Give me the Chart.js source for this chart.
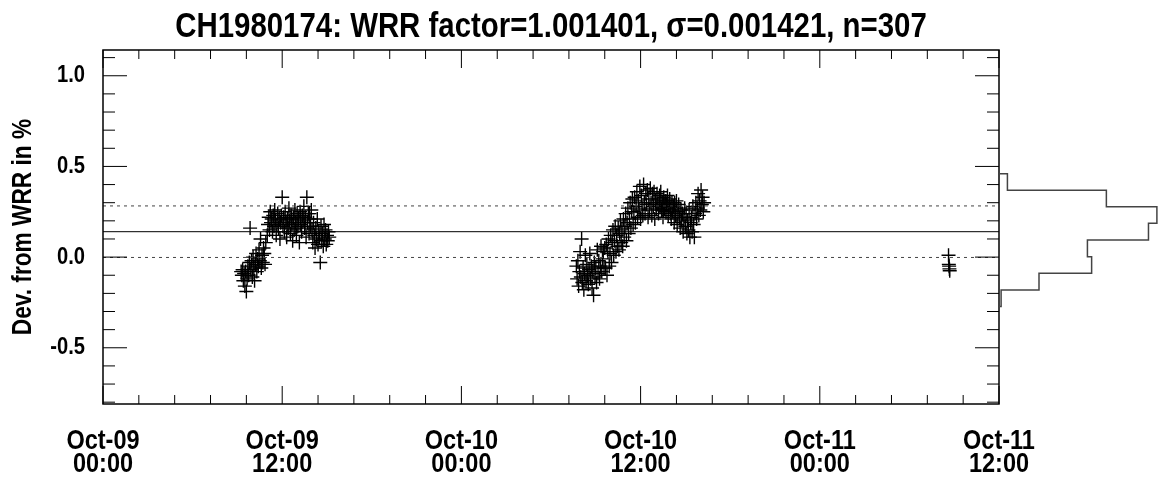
<!DOCTYPE html>
<html>
<head>
<meta charset="utf-8">
<title>CH1980174 WRR factor</title>
<script src="https://cdn.jsdelivr.net/npm/chart.js@4.4.1/dist/chart.umd.min.js"></script>
<style>
  html, body { margin: 0; padding: 0; background: #fff; }
  #wrap { position: relative; width: 1161px; height: 480px; }
  #wrap canvas { position: absolute; left: 0; top: 0; }
  #histo { pointer-events: none; }
</style>
</head>
<body>
<div id="wrap">
  <canvas id="grafico" width="1161" height="480"></canvas>
  <canvas id="histo" width="1161" height="480"></canvas>
</div>
<script>
// --- datos ---
const titulo = "CH1980174: WRR factor=1.001401, \u03c3=0.001421, n=307";
const wrrMedia = 0.1401;   // (factor - 1) en %
const wrrSigma = 0.1421;   // sigma en %

// primera serie (09-oct)
const run1Horas = [
  9.25, 9.30, 9.35, 9.40, 9.45, 9.50, 9.55, 9.60, 9.65, 9.70, 9.75, 9.80, 9.85, 9.90, 9.95, 10.00, 10.05,
  10.10, 10.15, 10.20, 10.25, 10.30, 10.35, 10.40, 10.45, 10.50, 10.55, 10.60, 10.65, 10.70, 10.75, 10.80, 10.85, 10.90,
  11.00, 11.05, 11.10, 11.15, 11.20, 11.25, 11.30, 11.35, 11.40, 11.45, 11.50, 11.55, 11.60, 11.65, 11.70, 11.75,
  11.80, 11.85, 11.90, 11.95, 12.00, 12.05,
  12.10, 12.15, 12.20, 12.25, 12.30, 12.35, 12.40, 12.45, 12.50, 12.55, 12.60, 12.65, 12.70, 12.75, 12.80, 12.85,
  12.90, 12.95, 13.00, 13.05, 13.10, 13.15, 13.20, 13.25, 13.30, 13.35, 13.40, 13.45, 13.50, 13.55, 13.60, 13.65,
  13.70, 13.75, 13.80, 13.85, 13.90, 13.95,
  14.00, 14.05, 14.10, 14.15, 14.20, 14.25, 14.30, 14.35, 14.40, 14.45, 14.50, 14.55, 14.60, 14.65, 14.70, 14.75,
  14.80, 14.85, 14.90, 14.95, 15.00, 15.05, 15.10, 15.15,
  12.325, 12.625, 12.925, 13.225, 13.525, 13.825
];
const run1Dev = [
  -0.08, -0.10, -0.07, -0.13, -0.09, -0.16, -0.08, -0.19, -0.12, -0.05, -0.10, -0.03, 0.16, -0.07, -0.02, -0.11, 0.00,
  -0.06, -0.13, -0.04, 0.02, -0.08, -0.01, -0.05, 0.04, -0.02, 0.10, -0.06, 0.01, -0.03, 0.05, 0.02, -0.04, 0.08,
  0.12, 0.18, 0.22, 0.15, 0.25, 0.19, 0.21, 0.14, 0.23, 0.17, 0.26, 0.20, 0.12, 0.18, 0.24, 0.16,
  0.21, 0.10, 0.19, 0.23, 0.33, 0.17,
  0.22, 0.14, 0.25, 0.19, 0.11, 0.21, 0.16, 0.27, 0.20, 0.13, 0.23, 0.18, 0.09, 0.22, 0.15, 0.26,
  0.19, 0.12, 0.24, 0.17, 0.21, 0.08, 0.25, 0.18, 0.14, 0.23, 0.20, 0.28, 0.16, 0.22, 0.11, 0.33,
  0.19, 0.24, 0.13, 0.21, 0.17, 0.26,
  0.15, 0.08, 0.19, 0.12, 0.05, 0.16, 0.10, 0.21, 0.07, 0.14, 0.11, -0.03, 0.17, 0.09, 0.13, 0.06,
  0.18, 0.10, 0.15, 0.07, 0.12, 0.09, 0.14, 0.11,
  0.18, 0.21, 0.16, 0.22, 0.19, 0.24
];

// segunda serie (10-oct)
const run2Horas = [
  31.70, 31.75, 31.80, 31.85, 31.90, 31.95, 32.00, 32.05, 32.10, 32.15, 32.20, 32.25, 32.30, 32.35, 32.40, 32.45,
  32.50, 32.55, 32.60, 32.65, 32.70, 32.75, 32.80, 32.85, 32.90, 32.95, 33.00, 33.05, 33.10, 33.15, 33.20, 33.25,
  33.30, 33.35, 33.40, 33.45, 33.50, 33.55, 33.60,
  33.65, 33.70, 33.75, 33.80, 33.85, 33.90, 33.95, 34.00, 34.05, 34.10, 34.15, 34.20, 34.25, 34.30, 34.35, 34.40,
  34.45, 34.50, 34.55, 34.60, 34.65, 34.70, 34.75, 34.80, 34.85, 34.90, 34.95, 35.00, 35.05, 35.10, 35.15, 35.20,
  35.25, 35.30, 35.35, 35.40, 35.45, 35.50,
  35.55, 35.60, 35.65, 35.70, 35.75, 35.80, 35.85, 35.90, 35.95, 36.00, 36.05, 36.10, 36.15, 36.20, 36.25, 36.30,
  36.35, 36.40, 36.45, 36.50, 36.55, 36.60, 36.65, 36.70, 36.75, 36.80, 36.85, 36.90, 36.95,
  37.00, 37.05, 37.10, 37.15, 37.20, 37.25, 37.30, 37.35, 37.40, 37.45, 37.50, 37.55, 37.60, 37.65, 37.70, 37.75,
  37.80, 37.85, 37.90, 37.95, 38.00, 38.05, 38.10, 38.15, 38.20, 38.25, 38.30, 38.35, 38.40, 38.45, 38.50, 38.55,
  38.60, 38.65, 38.70, 38.75, 38.80, 38.85, 38.90, 38.95,
  39.00, 39.05, 39.10, 39.15, 39.20, 39.25, 39.30, 39.35, 39.40, 39.45, 39.50, 39.55, 39.60, 39.65, 39.70, 39.75,
  39.80, 39.85, 39.90, 39.95, 40.00, 40.05, 40.10, 40.15, 40.20, 40.25,
  37.025, 37.275, 37.525, 37.775, 38.025, 38.275
];
const run2Dev = [
  -0.05, -0.12, -0.02, -0.16, -0.08, 0.03, -0.11, 0.10, -0.14, -0.06, -0.18, -0.09, 0.01, -0.13, -0.04, -0.10,
  -0.15, -0.07, 0.02, -0.12, -0.05, -0.17, -0.08, -0.21, -0.03, -0.11, -0.06, -0.14, 0.04, -0.09, -0.02, -0.12,
  -0.05, 0.06, -0.08, -0.01, 0.03, -0.06, 0.05,
  -0.06, 0.07, -0.10, 0.03, 0.10, -0.05, 0.02, 0.12, -0.03, 0.08, 0.15, 0.01, 0.09, 0.17, 0.03, 0.12,
  0.06, 0.16, 0.04, 0.13, 0.20, 0.08, 0.15, 0.06, 0.21, 0.11, 0.17, 0.24, 0.09, 0.19, 0.27, 0.13,
  0.21, 0.30, 0.16, 0.25, 0.32, 0.18,
  0.25, 0.33, 0.19, 0.28, 0.36, 0.22, 0.31, 0.26, 0.39, 0.21, 0.34, 0.27, 0.23, 0.40, 0.30, 0.24,
  0.35, 0.29, 0.37, 0.22, 0.32, 0.26, 0.38, 0.30, 0.23, 0.35, 0.28, 0.36, 0.21,
  0.31, 0.27, 0.35, 0.29, 0.24, 0.32, 0.28, 0.36, 0.26, 0.30, 0.22, 0.33, 0.27, 0.31, 0.25, 0.29,
  0.34, 0.23, 0.28, 0.32, 0.26, 0.21, 0.30, 0.25, 0.28, 0.19, 0.27, 0.23, 0.31, 0.18, 0.25, 0.29,
  0.22, 0.16, 0.26, 0.20, 0.24, 0.14, 0.21, 0.27,
  0.17, 0.24, 0.13, 0.20, 0.15, 0.26, 0.11, 0.19, 0.22, 0.14, 0.28, 0.18, 0.11, 0.24, 0.30, 0.21,
  0.27, 0.35, 0.23, 0.31, 0.26, 0.37, 0.29, 0.33, 0.25, 0.30,
  0.29, 0.34, 0.26, 0.31, 0.24, 0.30
];

// tercera serie (11-oct)
const run3Horas = [56.62, 56.64, 56.66, 56.68, 56.70];
const run3Dev = [0.01, -0.04, -0.05, -0.065, -0.075];

// histograma de desviaciones (bordes de clase y cuentas, de abajo hacia arriba)
const histBordes = [-0.272, -0.181, -0.089, 0.002, 0.094, 0.186, 0.277, 0.369, 0.460];
const histCuentas = [1, 19, 44, 42, 71, 75, 51, 4];

// ejes
const xTicksHoras = [0, 12, 24, 36, 48, 60];
const xTicksTexto = [
  ["Oct-09", "00:00"], ["Oct-09", "12:00"], ["Oct-10", "00:00"],
  ["Oct-10", "12:00"], ["Oct-11", "00:00"], ["Oct-11", "12:00"]
];
const yTicksValores = [-0.5, 0.0, 0.5, 1.0];
const yMin = -0.81, yMax = 1.142;

const FUENTE = "'Liberation Sans', Arial, sans-serif";
const ESTRECHO = 0.84;   // factor horizontal para imitar una fuente narrow

const puntos = [];
[[run1Horas, run1Dev], [run2Horas, run2Dev], [run3Horas, run3Dev]].forEach(([h, d]) => {
  h.forEach((t, i) => puntos.push({ x: t, y: d[i] }));
});

const linea = (y, dash) => ({
  type: 'line',
  data: [{ x: 0, y: y }, { x: 60, y: y }],
  borderColor: dash ? '#444' : '#000',
  borderWidth: 1,
  borderDash: dash ? [3, 4] : [],
  pointRadius: 0
});

// texto condensado: no hay fuente estrecha instalada
const estrecho = {
  id: 'estrecho',
  beforeDraw(chart) {
    const ctx = chart.ctx;
    if (ctx._fillTextOrig) return;
    const orig = ctx.fillText;
    ctx._fillTextOrig = orig;
    ctx.fillText = function (txt, x, y) {
      this.save();
      this.translate(x, y);
      this.scale(ESTRECHO, 1);
      orig.call(this, txt, 0, 0);
      this.restore();
    };
  }
};

// marco con marcas hacia adentro en los cuatro lados
const marco = {
  id: 'marco',
  afterDatasetsDraw(chart) {
    const { ctx, chartArea: a, scales: { x, y } } = chart;
    ctx.save();
    ctx.strokeStyle = '#000';
    ctx.lineWidth = 1;
    ctx.beginPath();
    for (let k = 0; k <= 25; k++) {
      const px = x.getPixelForValue(k * 2.4);
      const len = k % 5 === 0 ? 18 : 9;
      ctx.moveTo(px, a.bottom); ctx.lineTo(px, a.bottom - len);
      ctx.moveTo(px, a.top); ctx.lineTo(px, a.top + len);
    }
    for (let k = Math.ceil(yMin * 10); k <= Math.floor(yMax * 10); k++) {
      const py = y.getPixelForValue(k / 10);
      const len = k % 5 === 0 ? 24 : 12;
      ctx.moveTo(a.left, py); ctx.lineTo(a.left + len, py);
      ctx.moveTo(a.right, py); ctx.lineTo(a.right - len, py);
    }
    ctx.stroke();
    ctx.lineWidth = 1.5;
    ctx.strokeRect(a.left, a.top, a.right - a.left, a.bottom - a.top);
    ctx.restore();
  }
};

new Chart(document.getElementById('grafico'), {
  type: 'scatter',
  data: {
    datasets: [
      linea(wrrMedia, false),
      linea(wrrMedia + wrrSigma, true),
      linea(wrrMedia - wrrSigma, true),
      {
        data: puntos,
        pointStyle: 'cross',
        pointRadius: 7,
        borderColor: '#000',
        borderWidth: 1.4
      }
    ]
  },
  options: {
    responsive: false,
    animation: false,
    layout: { padding: { left: 0, right: 162, top: 0, bottom: 0 } },
    plugins: {
      legend: { display: false },
      tooltip: { enabled: false },
      title: {
        display: true,
        text: titulo,
        fullSize: false,
        color: '#000',
        font: { family: FUENTE, size: 35, weight: 'bold', lineHeight: 1 },
        padding: { top: 10, bottom: 5 }
      }
    },
    scales: {
      x: {
        type: 'linear',
        min: 0, max: 60,
        grid: { display: false, drawTicks: false },
        border: { display: false },
        afterBuildTicks: s => { s.ticks = xTicksHoras.map(v => ({ value: v })); },
        afterFit: s => { s.height = 76; },
        ticks: {
          maxRotation: 0, autoSkip: false, padding: 26, color: '#000',
          font: { family: FUENTE, size: 28, weight: 'bold', lineHeight: 0.82 },
          callback: (v, i) => xTicksTexto[i]
        }
      },
      y: {
        min: yMin, max: yMax,
        grid: { display: false, drawTicks: false },
        border: { display: false },
        afterBuildTicks: s => { s.ticks = yTicksValores.map(v => ({ value: v })); },
        afterFit: s => { s.width = 103; },
        ticks: {
          padding: 18, color: '#000',
          font: { family: FUENTE, size: 24, weight: 'bold' },
          callback: v => v.toFixed(1)
        },
        title: {
          display: true,
          text: 'Dev. from WRR in %',
          color: '#000',
          font: { family: FUENTE, size: 27, weight: 'bold', lineHeight: 1.2 },
          padding: { top: 7, bottom: 0 }
        }
      }
    }
  },
  plugins: [estrecho, marco]
});

// histograma lateral como escalera
const escalera = [{ x: 0, y: histBordes[histBordes.length - 1] }];
for (let i = histCuentas.length - 1; i >= 0; i--) {
  escalera.push({ x: histCuentas[i], y: histBordes[i + 1] });
  escalera.push({ x: histCuentas[i], y: histBordes[i] });
}
escalera.push({ x: 0, y: histBordes[0] });

new Chart(document.getElementById('histo'), {
  type: 'scatter',
  data: {
    datasets: [{
      data: escalera,
      showLine: true,
      pointRadius: 0,
      borderColor: '#444',
      borderWidth: 1.5,
      clip: false
    }]
  },
  options: {
    responsive: false,
    animation: false,
    layout: { padding: { left: 999, right: 2, top: 50, bottom: 76 } },
    plugins: { legend: { display: false }, tooltip: { enabled: false } },
    scales: {
      x: { type: 'linear', min: 0, max: 76, display: false },
      y: { min: yMin, max: yMax, display: false }
    }
  }
});
</script>
</body>
</html>
